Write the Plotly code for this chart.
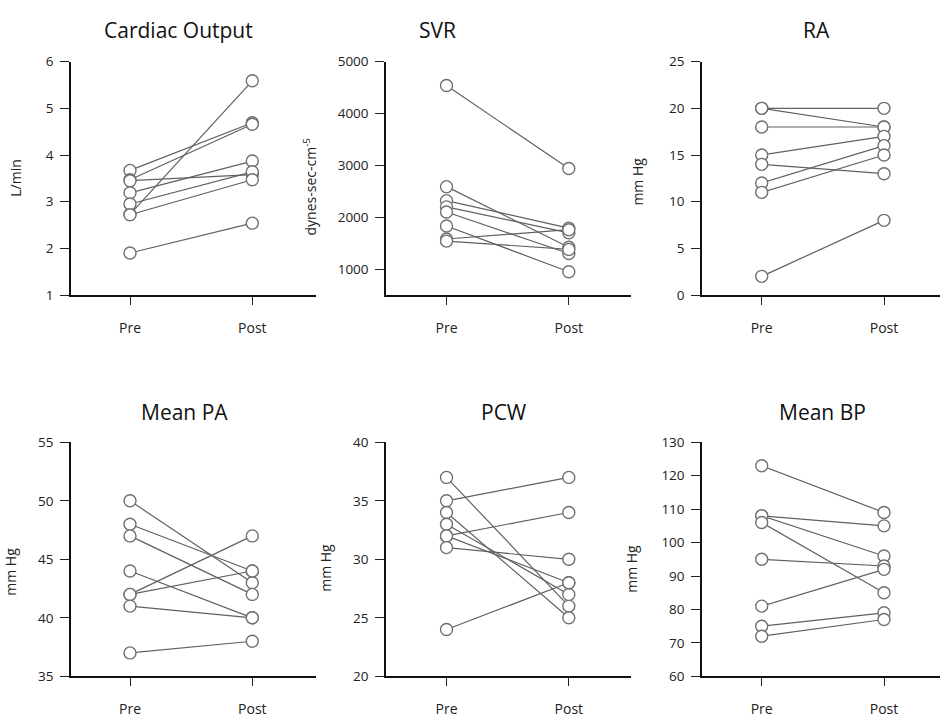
import plotly.graph_objects as go

W, H = 940, 726

categories = ["Pre", "Post"]

titles = ["Cardiac Output", "SVR", "RA", "Mean PA", "PCW", "Mean BP"]
ytitles = ["L/min", "dynes-sec-cm<sup>-5</sup>", "mm Hg", "mm Hg", "mm Hg", "mm Hg"]

co_pre = [3.67, 3.47, 3.45, 2.73, 3.19, 2.95, 2.72, 1.90]
co_post = [4.69, 4.66, 3.58, 5.59, 3.87, 3.64, 3.47, 2.54]

svr_pre = [4540, 2590, 2320, 2200, 2100, 1830, 1580, 1540]
svr_post = [2940, 1420, 1790, 1700, 1300, 950, 1760, 1380]

ra_pre = [20, 20, 18, 15, 14, 12, 11, 2]
ra_post = [20, 18, 18, 17, 13, 16, 15, 8]

pa_pre = [50, 48, 47, 44, 42, 42, 41, 37]
pa_post = [43, 44, 42, 40, 47, 44, 40, 38]

pcw_pre = [37, 35, 34, 33, 32, 32, 31, 24]
pcw_post = [26, 37, 25, 27, 34, 28, 30, 28]

bp_pre = [123, 108, 108, 106, 95, 81, 75, 72]
bp_post = [109, 105, 96, 85, 93, 92, 79, 77]

yranges = [[1, 6], [500, 5000], [0, 25], [35, 55], [20, 40], [60, 130]]
ytickvals = [[1, 2, 3, 4, 5, 6], [1000, 2000, 3000, 4000, 5000], [0, 5, 10, 15, 20, 25],
             [35, 40, 45, 50, 55], [20, 25, 30, 35, 40], [60, 70, 80, 90, 100, 110, 120, 130]]

panels = [(co_pre, co_post), (svr_pre, svr_post), (ra_pre, ra_post),
          (pa_pre, pa_post), (pcw_pre, pcw_post), (bp_pre, bp_post)]

# layout in pixels: (axis left x, pre x, domain right x)
col_px = [(71, 130, 316), (386, 446.5, 631), (702, 761.7, 940)]
spacing = 122.3
row_px = [(54, 293.3), (444.3, 684.3)]  # top, bottom pixel
title_pos = [(178, 22), (437, 22), (816, 22), (184, 413), (504, 413), (822, 413)]
ytitle_pos = [(16, 173), (311, 182), (638, 177), (11, 577), (326, 573), (632, 574)]

FONT = "Open Sans"
fig = go.Figure()
annotations = []
for i, (pre, post) in enumerate(panels):
    r, c = divmod(i, 3)
    L, P, R = col_px[c]
    top, bot = row_px[r]
    n = "" if i == 0 else str(i + 1)
    for a, b in zip(pre, post):
        fig.add_trace(go.Scatter(
            x=[0, 1], y=[a, b], mode="lines+markers",
            xaxis="x" + n, yaxis="y" + n, showlegend=False, hoverinfo="skip",
            line=dict(color="#606060", width=1.2),
            marker=dict(size=12, color="white", line=dict(color="#707070", width=1.4)),
            cliponaxis=False,
        ))
    xr = [(L - P) / spacing, (R - P) / spacing]
    fig.layout["xaxis" + n] = dict(
        domain=[L / W, R / W], range=xr, anchor="y" + n,
        tickvals=[0, 1], ticktext=categories, ticks="outside", ticklen=8,
        tickwidth=1, tickcolor="#222", showline=True, linecolor="#111", linewidth=1.5,
        showgrid=False, zeroline=False, fixedrange=True,
        tickfont=dict(family=FONT, size=14, color="#222"), ticklabelstandoff=11,
    )
    fig.layout["yaxis" + n] = dict(
        domain=[1 - bot / H, 1 - top / H], range=yranges[i], anchor="x" + n,
        tickvals=ytickvals[i], ticks="outside", ticklen=9, tickwidth=1, tickcolor="#222",
        showline=True, linecolor="#111", linewidth=1.5, showgrid=False, zeroline=False,
        tickfont=dict(family=FONT, size=13.5, color="#222"), ticklabelstandoff=4,
    )
    tx, ty = title_pos[i]
    annotations.append(dict(text=titles[i], x=tx / W, y=1 - ty / H, xref="paper", yref="paper",
                            showarrow=False, xanchor="center", yanchor="middle",
                            font=dict(family=FONT, size=21, color="#111")))
    ax, ay = ytitle_pos[i]
    annotations.append(dict(text=ytitles[i], x=ax / W, y=1 - ay / H, xref="paper", yref="paper",
                            showarrow=False, xanchor="center", yanchor="middle", textangle=-90,
                            font=dict(family=FONT, size=14, color="#222")))

fig.update_layout(width=W, height=H, margin=dict(l=0, r=0, t=0, b=0),
                  paper_bgcolor="white", plot_bgcolor="white", annotations=annotations)
fig.write_html("out.html")
